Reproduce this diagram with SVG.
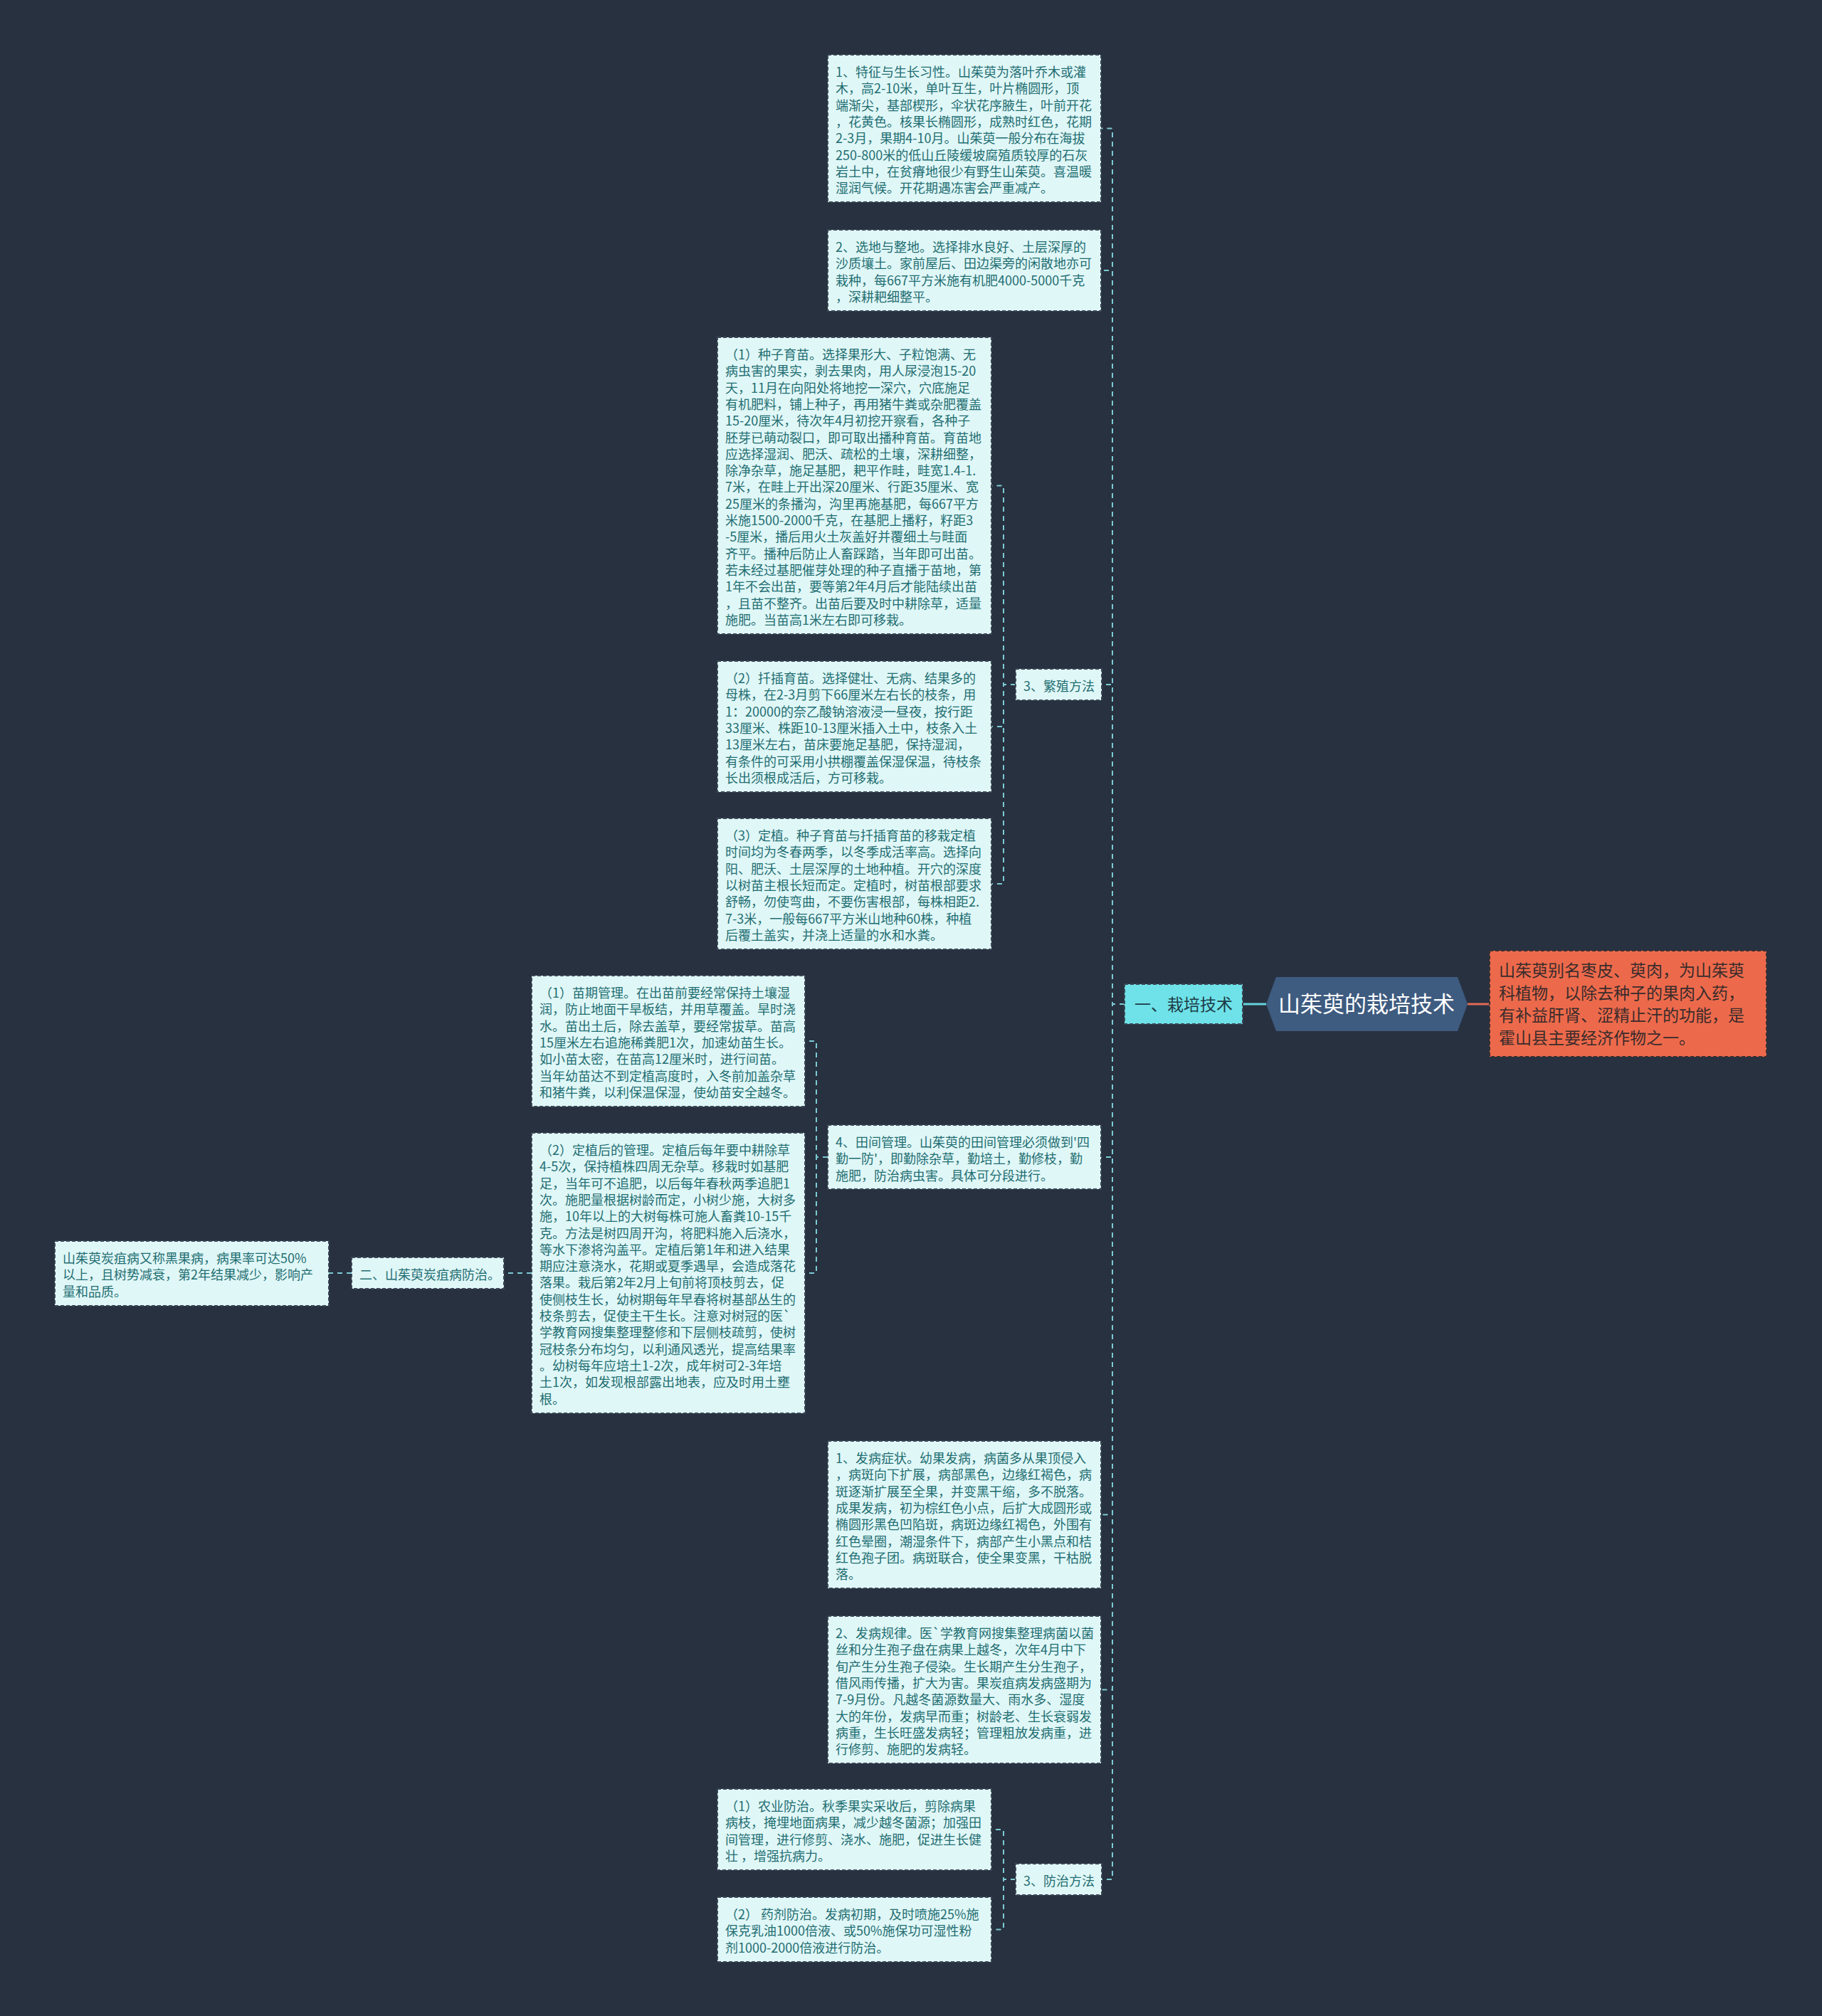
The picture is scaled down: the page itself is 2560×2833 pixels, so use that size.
<svg xmlns="http://www.w3.org/2000/svg" width="2560" height="2833" viewBox="0 0 2560 2833">
<style>
.bg{fill:#283140}
.n{fill:#e0f7f7;stroke:#3b4756;stroke-width:2;stroke-dasharray:5 3}
.t{font-family:"Noto Sans CJK SC","Noto Sans",sans-serif;font-size:18px;fill:#1f6e72}
.c{fill:none;stroke:#7ccbd3;stroke-width:2;stroke-dasharray:7 6}
.cyan{fill:#6ee2e8;stroke:#3b4756;stroke-width:2;stroke-dasharray:5 3}
.org{fill:#ec6a4b;stroke:#3b2f33;stroke-width:2;stroke-dasharray:5 3}
.root{fill:#3e5b80}
.tl{font-family:"Noto Sans CJK SC","Noto Sans",sans-serif;font-size:23px;fill:#1d3a46}
.to{font-family:"Noto Sans CJK SC","Noto Sans",sans-serif;font-size:23px;fill:#3a2b2b}
.tr{font-family:"Noto Sans CJK SC","Noto Sans",sans-serif;font-size:31px;fill:#ffffff}
</style>
<rect class="bg" x="0" y="0" width="2560" height="2833"/>

<g id="connectors">
<line x1="1746" y1="1411" x2="1779" y2="1411" stroke="#64d4dc" stroke-width="3"/>
<line x1="2062" y1="1411" x2="2093" y2="1411" stroke="#e06b55" stroke-width="3"/>
<path class="c" d="M1580 1411 H1563 V180.5 H1547"/>
<path class="c" d="M1580 1411 H1563 V380 H1547"/>
<path class="c" d="M1580 1411 H1563 V962 H1548"/>
<path class="c" d="M1580 1411 H1563 V1626 H1547"/>
<path class="c" d="M1580 1411 H1563 V2128.5 H1547"/>
<path class="c" d="M1580 1411 H1563 V2374.5 H1547"/>
<path class="c" d="M1580 1411 H1563 V2641 H1548"/>
<path class="c" d="M1427 962 H1410 V682.5 H1393"/>
<path class="c" d="M1427 962 H1410 V1021 H1393"/>
<path class="c" d="M1427 962 H1410 V1242 H1393"/>
<path class="c" d="M1163 1626 H1147 V1463 H1131"/>
<path class="c" d="M1163 1626 H1147 V1789 H1131"/>
<path class="c" d="M747 1789 H708"/>
<path class="c" d="M494 1789 H462"/>
<path class="c" d="M1427 2641 H1410 V2571 H1393"/>
<path class="c" d="M1427 2641 H1410 V2711.5 H1393"/>
</g>

<g id="root">
<polygon class="root" points="1779,1411 1793,1373 2048,1373 2062,1411 2048,1449 1793,1449"/>
<text class="tr" x="1920" y="1422" text-anchor="middle">山茱萸的栽培技术</text>
</g>

<g id="summary">
<rect class="org" x="2093" y="1336" width="389" height="149"/>
<text class="to" x="2106" y="1372"><tspan x="2106" dy="0">山茱萸别名枣皮、萸肉，为山茱萸</tspan><tspan x="2106" dy="31.5">科植物，以除去种子的果肉入药，</tspan><tspan x="2106" dy="31.5">有补益肝肾、涩精止汗的功能，是</tspan><tspan x="2106" dy="31.5">霍山县主要经济作物之一。</tspan></text>
</g>

<g id="n-yi">
<rect class="cyan" x="1580" y="1383" width="166" height="56"/>
<text class="tl" x="1663" y="1419.5" text-anchor="middle">一、栽培技术</text>
</g>

<g id="n-1">
<rect class="n" x="1163" y="77" width="384" height="207"/>
<text class="t" x="1174" y="108"><tspan x="1174" dy="0">1、特征与生长习性。山茱萸为落叶乔木或灌</tspan><tspan x="1174" dy="23.3">木，高2-10米，单叶互生，叶片椭圆形，顶</tspan><tspan x="1174" dy="23.3">端渐尖，基部楔形，伞状花序腋生，叶前开花</tspan><tspan x="1174" dy="23.3">，花黄色。核果长椭圆形，成熟时红色，花期</tspan><tspan x="1174" dy="23.3">2-3月，果期4-10月。山茱萸一般分布在海拔</tspan><tspan x="1174" dy="23.3">250-800米的低山丘陵缓坡腐殖质较厚的石灰</tspan><tspan x="1174" dy="23.3">岩土中，在贫瘠地很少有野生山茱萸。喜温暖</tspan><tspan x="1174" dy="23.3">湿润气候。开花期遇冻害会严重减产。</tspan></text>
</g>

<g id="n-2">
<rect class="n" x="1163" y="323" width="384" height="114"/>
<text class="t" x="1174" y="354"><tspan x="1174" dy="0">2、选地与整地。选择排水良好、土层深厚的</tspan><tspan x="1174" dy="23.3">沙质壤土。家前屋后、田边渠旁的闲散地亦可</tspan><tspan x="1174" dy="23.3">栽种，每667平方米施有机肥4000-5000千克</tspan><tspan x="1174" dy="23.3">，深耕耙细整平。</tspan></text>
</g>

<g id="n-3">
<rect class="n" x="1427" y="940" width="121" height="44"/>
<text class="t" x="1438" y="971">3、繁殖方法</text>
</g>

<g id="n-3-1">
<rect class="n" x="1008" y="474" width="385" height="417"/>
<text class="t" x="1019" y="505"><tspan x="1019" dy="0">（1）种子育苗。选择果形大、子粒饱满、无</tspan><tspan x="1019" dy="23.3">病虫害的果实，剥去果肉，用人尿浸泡15-20</tspan><tspan x="1019" dy="23.3">天，11月在向阳处将地挖一深穴，穴底施足</tspan><tspan x="1019" dy="23.3">有机肥料，铺上种子，再用猪牛粪或杂肥覆盖</tspan><tspan x="1019" dy="23.3">15-20厘米，待次年4月初挖开察看，各种子</tspan><tspan x="1019" dy="23.3">胚芽已萌动裂口，即可取出播种育苗。育苗地</tspan><tspan x="1019" dy="23.3">应选择湿润、肥沃、疏松的土壤，深耕细整，</tspan><tspan x="1019" dy="23.3">除净杂草，施足基肥，耙平作畦，畦宽1.4-1.</tspan><tspan x="1019" dy="23.3">7米，在畦上开出深20厘米、行距35厘米、宽</tspan><tspan x="1019" dy="23.3">25厘米的条播沟，沟里再施基肥，每667平方</tspan><tspan x="1019" dy="23.3">米施1500-2000千克，在基肥上播籽，籽距3</tspan><tspan x="1019" dy="23.3">-5厘米，播后用火土灰盖好并覆细土与畦面</tspan><tspan x="1019" dy="23.3">齐平。播种后防止人畜踩踏，当年即可出苗。</tspan><tspan x="1019" dy="23.3">若未经过基肥催芽处理的种子直播于苗地，第</tspan><tspan x="1019" dy="23.3">1年不会出苗，要等第2年4月后才能陆续出苗</tspan><tspan x="1019" dy="23.3">，且苗不整齐。出苗后要及时中耕除草，适量</tspan><tspan x="1019" dy="23.3">施肥。当苗高1米左右即可移栽。</tspan></text>
</g>

<g id="n-3-2">
<rect class="n" x="1008" y="929" width="385" height="184"/>
<text class="t" x="1019" y="960"><tspan x="1019" dy="0">（2）扦插育苗。选择健壮、无病、结果多的</tspan><tspan x="1019" dy="23.3">母株，在2-3月剪下66厘米左右长的枝条，用</tspan><tspan x="1019" dy="23.3">1：20000的奈乙酸钠溶液浸一昼夜，按行距</tspan><tspan x="1019" dy="23.3">33厘米、株距10-13厘米插入土中，枝条入土</tspan><tspan x="1019" dy="23.3">13厘米左右，苗床要施足基肥，保持湿润，</tspan><tspan x="1019" dy="23.3">有条件的可采用小拱棚覆盖保湿保温，待枝条</tspan><tspan x="1019" dy="23.3">长出须根成活后，方可移栽。</tspan></text>
</g>

<g id="n-3-3">
<rect class="n" x="1008" y="1150" width="385" height="184"/>
<text class="t" x="1019" y="1181"><tspan x="1019" dy="0">（3）定植。种子育苗与扦插育苗的移栽定植</tspan><tspan x="1019" dy="23.3">时间均为冬春两季，以冬季成活率高。选择向</tspan><tspan x="1019" dy="23.3">阳、肥沃、土层深厚的土地种植。开穴的深度</tspan><tspan x="1019" dy="23.3">以树苗主根长短而定。定植时，树苗根部要求</tspan><tspan x="1019" dy="23.3">舒畅，勿使弯曲，不要伤害根部，每株相距2.</tspan><tspan x="1019" dy="23.3">7-3米，一般每667平方米山地种60株，种植</tspan><tspan x="1019" dy="23.3">后覆土盖实，并浇上适量的水和水粪。</tspan></text>
</g>

<g id="n-4">
<rect class="n" x="1163" y="1581" width="384" height="90"/>
<text class="t" x="1174" y="1612"><tspan x="1174" dy="0">4、田间管理。山茱萸的田间管理必须做到'四</tspan><tspan x="1174" dy="23.3">勤一防'，即勤除杂草，勤培土，勤修枝，勤</tspan><tspan x="1174" dy="23.3">施肥，防治病虫害。具体可分段进行。</tspan></text>
</g>

<g id="n-4-1">
<rect class="n" x="747" y="1371" width="384" height="184"/>
<text class="t" x="758" y="1402"><tspan x="758" dy="0">（1）苗期管理。在出苗前要经常保持土壤湿</tspan><tspan x="758" dy="23.3">润，防止地面干旱板结，并用草覆盖。旱时浇</tspan><tspan x="758" dy="23.3">水。苗出土后，除去盖草，要经常拔草。苗高</tspan><tspan x="758" dy="23.3">15厘米左右追施稀粪肥1次，加速幼苗生长。</tspan><tspan x="758" dy="23.3">如小苗太密，在苗高12厘米时，进行间苗。</tspan><tspan x="758" dy="23.3">当年幼苗达不到定植高度时，入冬前加盖杂草</tspan><tspan x="758" dy="23.3">和猪牛粪，以利保温保湿，使幼苗安全越冬。</tspan></text>
</g>

<g id="n-4-2">
<rect class="n" x="747" y="1592" width="384" height="394"/>
<text class="t" x="758" y="1623"><tspan x="758" dy="0">（2）定植后的管理。定植后每年要中耕除草</tspan><tspan x="758" dy="23.3">4-5次，保持植株四周无杂草。移栽时如基肥</tspan><tspan x="758" dy="23.3">足，当年可不追肥，以后每年春秋两季追肥1</tspan><tspan x="758" dy="23.3">次。施肥量根据树龄而定，小树少施，大树多</tspan><tspan x="758" dy="23.3">施，10年以上的大树每株可施人畜粪10-15千</tspan><tspan x="758" dy="23.3">克。方法是树四周开沟，将肥料施入后浇水，</tspan><tspan x="758" dy="23.3">等水下渗将沟盖平。定植后第1年和进入结果</tspan><tspan x="758" dy="23.3">期应注意浇水，花期或夏季遇旱，会造成落花</tspan><tspan x="758" dy="23.3">落果。栽后第2年2月上旬前将顶枝剪去，促</tspan><tspan x="758" dy="23.3">使侧枝生长，幼树期每年早春将树基部丛生的</tspan><tspan x="758" dy="23.3">枝条剪去，促使主干生长。注意对树冠的医`</tspan><tspan x="758" dy="23.3">学教育网搜集整理整修和下层侧枝疏剪，使树</tspan><tspan x="758" dy="23.3">冠枝条分布均匀，以利通风透光，提高结果率</tspan><tspan x="758" dy="23.3">。幼树每年应培土1-2次，成年树可2-3年培</tspan><tspan x="758" dy="23.3">土1次，如发现根部露出地表，应及时用土壅</tspan><tspan x="758" dy="23.3">根。</tspan></text>
</g>

<g id="n-er">
<rect class="n" x="494" y="1767" width="214" height="44"/>
<text class="t" x="505" y="1798">二、山茱萸炭疽病防治。</text>
</g>

<g id="n-er-1">
<rect class="n" x="77" y="1744" width="385" height="91"/>
<text class="t" x="88" y="1775"><tspan x="88" dy="0">山茱萸炭疽病又称黑果病，病果率可达50%</tspan><tspan x="88" dy="23.3">以上，且树势减衰，第2年结果减少，影响产</tspan><tspan x="88" dy="23.3">量和品质。</tspan></text>
</g>

<g id="n-b1">
<rect class="n" x="1163" y="2025" width="384" height="207"/>
<text class="t" x="1174" y="2056"><tspan x="1174" dy="0">1、发病症状。幼果发病，病菌多从果顶侵入</tspan><tspan x="1174" dy="23.3">，病斑向下扩展，病部黑色，边缘红褐色，病</tspan><tspan x="1174" dy="23.3">斑逐渐扩展至全果，并变黑干缩，多不脱落。</tspan><tspan x="1174" dy="23.3">成果发病，初为棕红色小点，后扩大成圆形或</tspan><tspan x="1174" dy="23.3">椭圆形黑色凹陷斑，病斑边缘红褐色，外围有</tspan><tspan x="1174" dy="23.3">红色晕圈，潮湿条件下，病部产生小黑点和桔</tspan><tspan x="1174" dy="23.3">红色孢子团。病斑联合，使全果变黑，干枯脱</tspan><tspan x="1174" dy="23.3">落。</tspan></text>
</g>

<g id="n-b2">
<rect class="n" x="1163" y="2271" width="384" height="207"/>
<text class="t" x="1174" y="2302"><tspan x="1174" dy="0">2、发病规律。医`学教育网搜集整理病菌以菌</tspan><tspan x="1174" dy="23.3">丝和分生孢子盘在病果上越冬，次年4月中下</tspan><tspan x="1174" dy="23.3">旬产生分生孢子侵染。生长期产生分生孢子，</tspan><tspan x="1174" dy="23.3">借风雨传播，扩大为害。果炭疽病发病盛期为</tspan><tspan x="1174" dy="23.3">7-9月份。凡越冬菌源数量大、雨水多、湿度</tspan><tspan x="1174" dy="23.3">大的年份，发病早而重；树龄老、生长衰弱发</tspan><tspan x="1174" dy="23.3">病重，生长旺盛发病轻；管理粗放发病重，进</tspan><tspan x="1174" dy="23.3">行修剪、施肥的发病轻。</tspan></text>
</g>

<g id="n-b3">
<rect class="n" x="1427" y="2619" width="121" height="44"/>
<text class="t" x="1438" y="2650">3、防治方法</text>
</g>

<g id="n-b3-1">
<rect class="n" x="1008" y="2514" width="385" height="114"/>
<text class="t" x="1019" y="2545"><tspan x="1019" dy="0">（1）农业防治。秋季果实采收后，剪除病果</tspan><tspan x="1019" dy="23.3">病枝，掩埋地面病果，减少越冬菌源；加强田</tspan><tspan x="1019" dy="23.3">间管理，进行修剪、浇水、施肥，促进生长健</tspan><tspan x="1019" dy="23.3">壮 ，增强抗病力。</tspan></text>
</g>

<g id="n-b3-2">
<rect class="n" x="1008" y="2666" width="385" height="91"/>
<text class="t" x="1019" y="2697"><tspan x="1019" dy="0">（2） 药剂防治。发病初期，及时喷施25%施</tspan><tspan x="1019" dy="23.3">保克乳油1000倍液、或50%施保功可湿性粉</tspan><tspan x="1019" dy="23.3">剂1000-2000倍液进行防治。</tspan></text>
</g>
</svg>
